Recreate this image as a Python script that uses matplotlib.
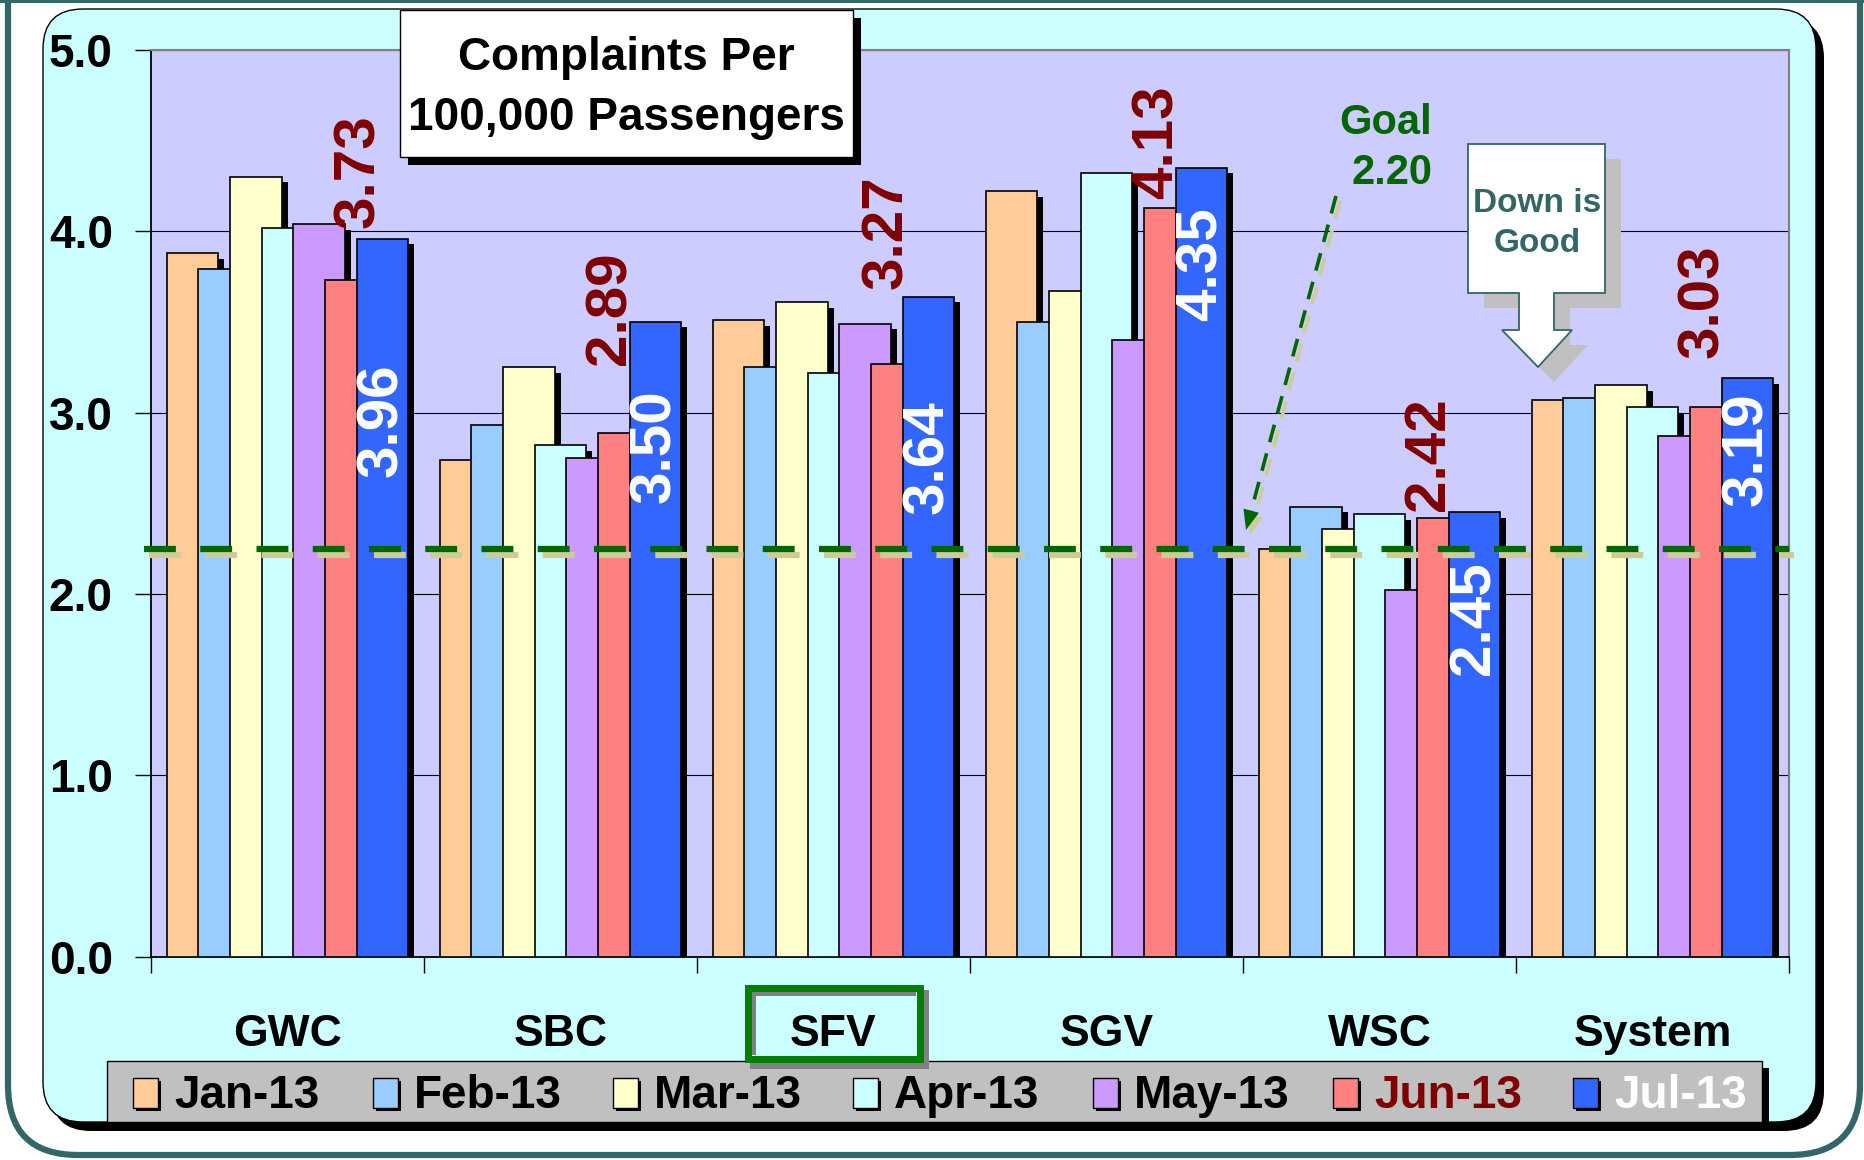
import matplotlib
matplotlib.use('Agg')
import matplotlib.pyplot as plt
import matplotlib.transforms as mtransforms
from matplotlib.patches import FancyBboxPatch, Rectangle, Polygon
import numpy as np

plt.rcParams['font.family'] = ['Liberation Sans', 'DejaVu Sans']
plt.rcParams['font.weight'] = 'bold'

# ---------------- data ----------------
categories = ['GWC', 'SBC', 'SFV', 'SGV', 'WSC', 'System']
months = ['Jan-13', 'Feb-13', 'Mar-13', 'Apr-13', 'May-13', 'Jun-13', 'Jul-13']
jan = [3.88, 2.74, 3.51, 4.22, 2.25, 3.07]
feb = [3.79, 2.93, 3.25, 3.50, 2.48, 3.08]
mar = [4.30, 3.25, 3.61, 3.67, 2.36, 3.15]
apr = [4.02, 2.82, 3.22, 4.32, 2.44, 3.03]
may = [4.04, 2.75, 3.49, 3.40, 2.02, 2.87]
jun = [3.73, 2.89, 3.27, 4.13, 2.42, 3.03]
jul = [3.96, 3.50, 3.64, 4.35, 2.45, 3.19]
goal_value = 2.20
goal_line = 2.25
yticks = [0.0, 1.0, 2.0, 3.0, 4.0, 5.0]
title_lines = ['Complaints Per', '100,000 Passengers']
highlight = 'SFV'

series = [jan, feb, mar, apr, may, jun, jul]
colors = ['#FFCC99', '#99CCFF', '#FFFFCC', '#CCFFFF', '#CC99FF', '#FF8080', '#3366FF']
legend_text_colors = ['black', 'black', 'black', 'black', 'black', '#800000', 'white']

# label layout tweaks (category units / value units)
jun_dx = [0.03, -0.05, -0.035, -0.045, -0.05, -0.045]
jun_gap = [0.29, 0.37, 0.41, 0.05, 0.04, 0.27]
jul_gap = [0.69, 0.37, 0.57, 0.22, 0.27, 0.08]

W, H = 1865, 1160
fig = plt.figure(figsize=(W / 100, H / 100), dpi=100)
fig.patch.set_facecolor('white')

# ---------------- background frame ----------------
bg = fig.add_axes([0, 0, 1, 1], zorder=0)
bg.set_xlim(0, W)
bg.set_ylim(H, 0)
bg.axis('off')
bg.add_patch(FancyBboxPatch((8, -80), 1852, 1235,
                            boxstyle='round,pad=0,rounding_size=70',
                            fc='white', ec='#336666', lw=4.5))
bg.add_patch(Rectangle((0, 0), W, 3, fc='#336666', ec='none'))
bg.add_patch(FancyBboxPatch((51, 18), 1773, 1113,
                            boxstyle='round,pad=0,rounding_size=40',
                            fc='black', ec='none'))
bg.add_patch(FancyBboxPatch((43, 9), 1773, 1113,
                            boxstyle='round,pad=0,rounding_size=40',
                            fc='#CCFFFF', ec='black', lw=1))

# ---------------- main axes ----------------
ax = fig.add_axes([151 / W, 1 - 956.5 / H, (1789 - 151) / W, (956.5 - 50) / H], zorder=1)
ax.set_facecolor('#CCCCFF')
ax.set_xlim(-0.5, 5.5)
ax.set_ylim(0, 5)

x = np.arange(len(categories))
step = 0.116
bw = 0.19
sdx = 6 / 273.0
sdy = 5.5 / 181.3
for i, (vals, col) in enumerate(zip(series, colors)):
    pos = x + (i - 3) * step
    v = np.array(vals)
    ax.bar(pos + sdx, v - sdy, bw, color='black', lw=0, zorder=3 + i * 0.1)
    ax.bar(pos, v, bw, color=col, edgecolor='black', lw=1.2, zorder=3.05 + i * 0.1)

ax.set_axisbelow(True)
ax.yaxis.grid(True, color='black', lw=0.8)
ax.set_yticks(yticks)
ax.set_yticklabels([f'{t:.1f}' for t in yticks])
ax.tick_params(axis='y', direction='out', length=11.5, width=1, pad=16,
               labelsize=33, colors='black')
ax.set_xticks(np.arange(-0.5, len(categories), 1.0))
ax.set_xticklabels([])
ax.tick_params(axis='x', direction='out', length=11.5, width=1, colors='black')
for s in ['left', 'bottom']:
    ax.spines[s].set_color('black')
    ax.spines[s].set_linewidth(1.3)
for s in ['top', 'right']:
    ax.spines[s].set_color('#808080')
    ax.spines[s].set_linewidth(1.5)

for i, c in enumerate(categories):
    ax.text(i, -0.0855, c, transform=ax.get_xaxis_transform(), ha='center',
            va='center', fontsize=32, fontweight='bold', color='black', zorder=10)

# goal line with shadow
shadow_tr = mtransforms.offset_copy(ax.transData, fig=fig, x=5, y=-6, units='dots')
xs = [-0.526, 5.5]
ax.plot(xs, [goal_line, goal_line], color='#CCCC99', lw=4.5, dashes=(5.1, 3.9),
        transform=shadow_tr, zorder=7, clip_on=False, dash_capstyle='butt')
ax.plot(xs, [goal_line, goal_line], color='#006600', lw=4.5, dashes=(5.1, 3.9),
        zorder=7.1, clip_on=False, dash_capstyle='butt')

# Jun / Jul value labels
for i in range(len(categories)):
    jx = x[i] + 2 * step + jun_dx[i]
    ax.text(jx, jun[i] + jun_gap[i], f'{jun[i]:.2f}', rotation=90, ha='center',
            va='bottom', color='#800000', fontsize=42, fontweight='bold',
            zorder=3.58, clip_on=False)
    lx = x[i] + 3 * step
    ax.text(lx, jul[i] - jul_gap[i], f'{jul[i]:.2f}', rotation=90, ha='center',
            va='top', color='white', fontsize=42, fontweight='bold', zorder=8)

# ---------------- foreground decorations ----------------
fg = fig.add_axes([0, 0, 1, 1], zorder=3)
fg.set_xlim(0, W)
fg.set_ylim(H, 0)
fg.axis('off')
fg.patch.set_alpha(0)

# title box
fg.add_patch(Rectangle((408, 18), 453, 147, fc='black', ec='none'))
fg.add_patch(Rectangle((400, 10), 453, 147, fc='white', ec='black', lw=1))
fg.text(626.5, 70, title_lines[0], ha='center', va='baseline', fontsize=33, color='black')
fg.text(626.5, 130, title_lines[1], ha='center', va='baseline', fontsize=33, color='black')

# goal text and dashed arrow
fg.text(1386, 134, 'Goal', ha='center', va='baseline', fontsize=30, color='#006600')
fg.text(1392, 184, f'{goal_value:.2f}', ha='center', va='baseline', fontsize=30, color='#006600')
start = np.array([1336.0, 196.0])
tip = np.array([1246.0, 530.0])
u = (tip - start) / np.linalg.norm(tip - start)
perp = np.array([-u[1], u[0]])
base = tip - 20 * u
for off, col, z in [((4, 5), '#CCCC99', 5), ((0, 0), '#006600', 6)]:
    o = np.array(off)
    fg.plot([start[0] + o[0], base[0] + o[0]], [start[1] + o[1], base[1] + o[1]],
            color=col, lw=2.6, dashes=(5, 3.2), zorder=z)
    fg.add_patch(Polygon([tip + o, base + 8 * perp + o, base - 8 * perp + o],
                         closed=True, fc=col, ec='none', zorder=z))

# "Down is Good" callout
callout = np.array([(1468, 144), (1605, 144), (1605, 293), (1554, 293), (1554, 330),
                    (1572, 330), (1538, 367), (1502, 330), (1519, 330), (1519, 293),
                    (1468, 293)], dtype=float)
fg.add_patch(Polygon(callout + np.array([16, 15]), closed=True, fc='#C0C0C0', ec='none'))
fg.add_patch(Polygon(callout, closed=True, fc='white', ec='#336666', lw=1.3))
fg.text(1537, 204, 'Down is', ha='center', va='center', fontsize=24, color='#336666')
fg.text(1537, 243, 'Good', ha='center', va='center', fontsize=24, color='#336666')

# legend
fg.add_patch(Rectangle((114, 1068), 1655, 61, fc='black', ec='none'))
fg.add_patch(Rectangle((107, 1061), 1655, 61, fc='#C0C0C0', ec='black', lw=1))
for i, (m, col, tc) in enumerate(zip(months, colors, legend_text_colors)):
    x0 = 133 + 240 * i
    fg.add_patch(Rectangle((x0 + 3, 1081), 25, 30, fc='black', ec='none'))
    fg.add_patch(Rectangle((x0, 1078), 25, 30, fc=col, ec='black', lw=1))
    fg.text(x0 + 41, 1108, m, ha='left', va='baseline', fontsize=33, color=tc)

# highlight box around SFV (drawn behind the category label)
hi = categories.index(highlight)
cx = 151 + 273 * (hi + 0.5)
bx0, by0, bwid, bht = cx - 89.5, 984, 179, 78
bg.add_patch(Rectangle((bx0 + 6, by0 + 6), bwid, bht, fc='#808080', ec='none', zorder=5))
fg.add_patch(Rectangle((bx0 + 6, by0 + bht), bwid, 7, fc='#808080', ec='none', zorder=1))
fg.add_patch(Rectangle((bx0 + bwid, by0 + 6), 6, bht, fc='#808080', ec='none', zorder=1))
bg.add_patch(Rectangle((bx0, by0), bwid, bht, fc='#CCFFFF', ec='none', zorder=6))
bg.add_patch(Rectangle((bx0 + 7, by0 + 7), bwid - 14, 5, fc='#808080', ec='none', zorder=7))
bg.add_patch(Rectangle((bx0 + 7, by0 + 7), 5, bht - 14, fc='#808080', ec='none', zorder=7))
fg.add_patch(Rectangle((bx0 + 3.5, by0 + 3.5), bwid - 7, bht - 7, fc='none',
                       ec='#008000', lw=5, zorder=2))

fig.savefig('out.png', dpi=100, facecolor=fig.get_facecolor())
